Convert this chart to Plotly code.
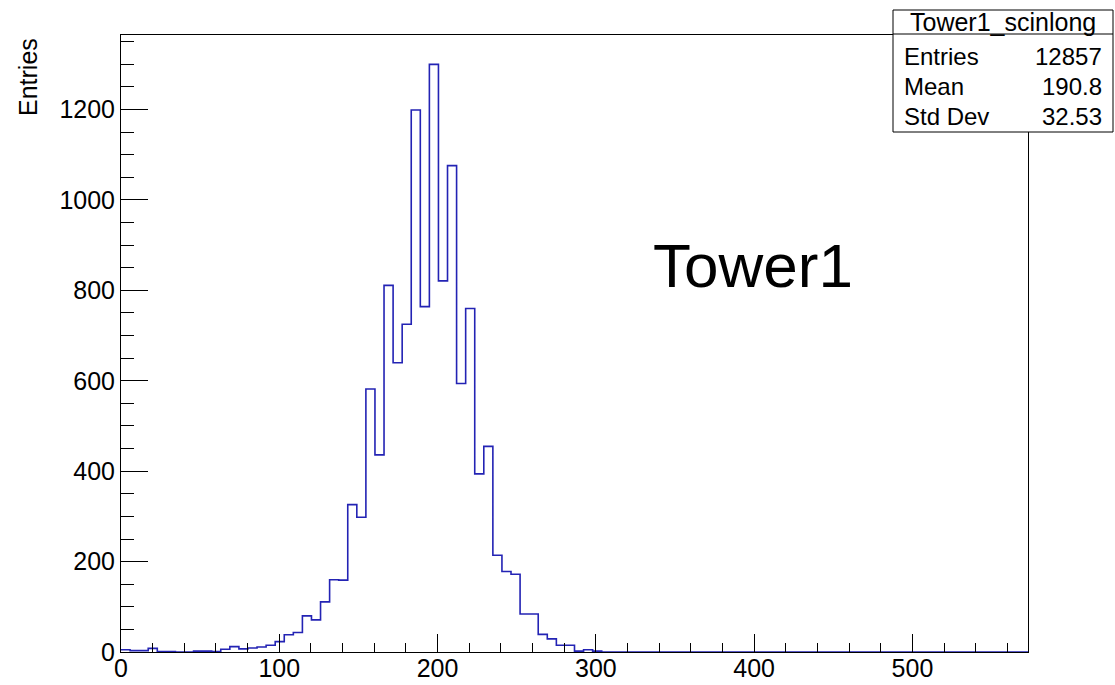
import numpy as np
import plotly.graph_objects as go

# ---- data ----
X_MIN, X_MAX = 0.0, 573.0
N_BINS = 100
counts = [5, 3, 3, 8, 1, 1, 0, 0, 2, 2,
          1, 6, 12, 7, 9, 11, 15, 23, 38, 43,
          80, 71, 111, 160, 159, 326, 298, 582, 436, 811,
          640, 725, 1199, 764, 1300, 821, 1076, 594, 760, 394,
          455, 214, 178, 172, 84, 84, 39, 29, 15, 15,
          2, 5, 2] + [0] * 47
hist_name = "Tower1_scinlong"
stats_labels = ["Entries", "Mean", "Std Dev"]
stats_values = ["12857", "190.8", "32.53"]
y_title = "Entries"
big_label = "Tower1"
x_tickvals = [0, 100, 200, 300, 400, 500]
y_tickvals = [0, 200, 400, 600, 800, 1000, 1200]
Y_MAX = 1365

edges = np.linspace(X_MIN, X_MAX, N_BINS + 1)
yvals = list(counts) + [counts[-1]]

FONT = "Liberation Sans, Arial, Helvetica, sans-serif"
LINE_BLUE = "#2323b4"

fig = go.Figure()
fig.add_trace(go.Scatter(x=edges, y=yvals, mode="lines", line_shape="hv",
                         line=dict(color=LINE_BLUE, width=1.6),
                         hoverinfo="skip", showlegend=False))

W, H = 1115, 685
L, R, T, B = 121, 87, 35, 33
pw, ph = W - L - R, H - T - B

def px(xp):
    return (xp - L) / pw

def py(yp):
    return (H - B - yp) / ph

fig.update_layout(
    width=W, height=H,
    margin=dict(l=L, r=R, t=T, b=B, pad=0, autoexpand=False),
    paper_bgcolor="white", plot_bgcolor="white",
    font=dict(family=FONT, size=25, color="black"),
    xaxis=dict(range=[X_MIN, X_MAX], tickvals=x_tickvals, ticks="inside",
               ticklen=18, tickwidth=1, tickcolor="black", automargin=False,
               ticklabelstandoff=-6,
               minor=dict(dtick=20, ticks="inside", ticklen=9, tickcolor="black", tickwidth=1),
               showgrid=False, zeroline=False, showline=True, linecolor="black",
               linewidth=1, mirror=True, tickfont=dict(size=25)),
    yaxis=dict(range=[0, Y_MAX], tickvals=y_tickvals, ticks="inside",
               ticklen=27, tickwidth=1, tickcolor="black", automargin=False,
               minor=dict(dtick=50, ticks="inside", ticklen=13, tickcolor="black", tickwidth=1),
               showgrid=False, zeroline=False, showline=True, linecolor="black",
               linewidth=1, mirror=True, tickfont=dict(size=25)),
)

# stats box
bx0, bx1, by0, by1, bsep = 893, 1113, 10, 132, 34
fig.add_shape(type="rect", xref="paper", yref="paper",
              x0=px(bx0), x1=px(bx1), y0=py(by1), y1=py(by0),
              line=dict(color="black", width=1), fillcolor="white", layer="above")
fig.add_shape(type="line", xref="paper", yref="paper",
              x0=px(bx0), x1=px(bx1), y0=py(bsep), y1=py(bsep),
              line=dict(color="black", width=1), layer="above")
fig.add_annotation(text=hist_name, xref="paper", yref="paper",
                   x=px((bx0 + bx1) / 2), y=py(22), xanchor="center", yanchor="middle",
                   showarrow=False, font=dict(size=25))
row_y = [57, 87, 116]
for lab, val, ry in zip(stats_labels, stats_values, row_y):
    fig.add_annotation(text=lab, xref="paper", yref="paper", x=px(902), y=py(ry),
                       xanchor="left", yanchor="middle", showarrow=False, font=dict(size=24))
    fig.add_annotation(text=val, xref="paper", yref="paper", x=px(1104), y=py(ry),
                       xanchor="right", yanchor="middle", showarrow=False, font=dict(size=24))

# y title
fig.add_annotation(text=y_title, xref="paper", yref="paper", x=px(28), y=py(36),
                   xanchor="center", yanchor="top", textangle=-90, showarrow=False,
                   font=dict(size=25))

# big label
fig.add_annotation(text=big_label, xref="paper", yref="paper", x=px(651), y=py(265),
                   xanchor="left", yanchor="middle", showarrow=False, font=dict(size=62))

fig.write_html("out.html")
